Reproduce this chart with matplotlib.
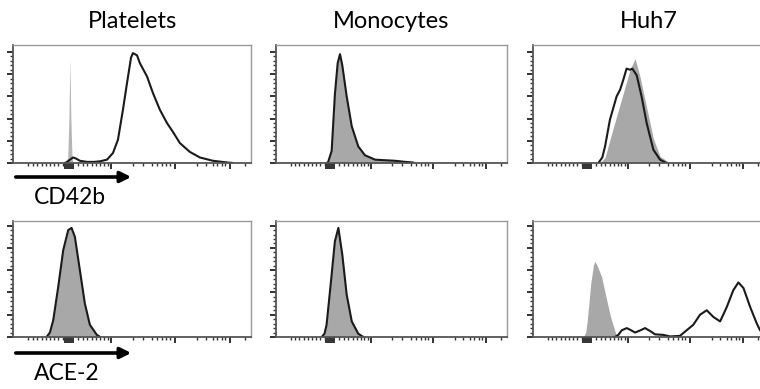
# Flow cytometry histograms: CD42b (top) and ACE-2 (bottom) on platelets, monocytes, Huh7
import matplotlib.pyplot as plt
from matplotlib.patches import FancyArrowPatch

plt.rcParams['font.family'] = ['Lato', 'DejaVu Sans']

# column titles and row marker labels
titles = ['Platelets', 'Monocytes', 'Huh7']
markers = ['CD42b', 'ACE-2']

# x in display channels (0-1000 across each panel), y in % of max
# top row: CD42b
plt_cd42_iso_x = [220, 230, 235, 239, 243, 248, 252]
plt_cd42_iso_y = [0, 5, 40, 94, 40, 5, 0]
plt_cd42_x = [218, 227, 240, 252, 265, 281, 311, 340, 365, 395, 420, 441, 462, 479, 496,
              504, 521, 533, 563, 588, 617, 647, 672, 701, 743, 785, 840, 899, 924]
plt_cd42_y = [0, 1, 3, 5, 4, 2, 1, 1, 1.5, 3, 9, 21, 48, 72, 95,
              99, 97, 90, 78, 63, 48, 36, 28, 18, 10, 5, 2, 0.5, 0]

mono_cd42_iso_x = [220, 226, 241, 255, 267, 277, 287, 306, 328, 356, 385, 429, 515, 560, 592, 600]
mono_cd42_iso_y = [0, 1, 12, 63, 90, 100, 88, 60, 33, 15, 7, 3, 2, 1, 0.5, 0]
mono_cd42_x = [220, 226, 241, 255, 267, 277, 287, 306, 328, 356, 385, 429, 515, 560, 592, 600]
mono_cd42_y = [0, 1, 11, 62, 90, 98, 88, 60, 33, 15, 7, 3, 2, 1, 0.5, 0]

huh_cd42_iso_x = [290, 312, 333, 362, 391, 420, 442, 463, 492, 521, 550, 593]
huh_cd42_iso_y = [0, 5, 21, 42, 63, 84, 94, 78, 50, 22, 6, 0]
huh_cd42_x = [283, 300, 312, 333, 362, 377, 391, 405, 420, 430, 449, 470, 492, 521, 550, 578]
huh_cd42_y = [0, 5, 15, 39, 60, 66, 75, 85, 84, 85, 79, 60, 36, 12, 3, 0]

# bottom row: ACE-2
plt_ace_iso_x = [141, 155, 169, 190, 211, 232, 246, 260, 281, 302, 323, 352, 366]
plt_ace_iso_y = [0, 4, 15, 45, 78, 96, 98, 90, 60, 30, 11, 2, 0]
plt_ace_x = plt_ace_iso_x
plt_ace_y = plt_ace_iso_y

mono_ace_iso_x = [198, 210, 219, 238, 255, 270, 287, 306, 328, 356, 378]
mono_ace_iso_y = [0, 3, 11, 50, 86, 98, 74, 38, 14, 3, 0]
mono_ace_x = mono_ace_iso_x
mono_ace_y = mono_ace_iso_y

huh_ace_iso_x = [218, 228, 235, 250, 262, 268, 280, 297, 316, 336, 355, 365]
huh_ace_iso_y = [0, 4, 15, 48, 65, 68, 63, 54, 36, 18, 5, 0]
huh_ace_x = [355, 370, 384, 406, 425, 442, 465, 485, 510, 528, 564, 593, 636, 665, 694,
             723, 752, 781, 810, 839, 867, 889, 911, 940, 969, 983, 1000]
huh_ace_y = [0, 2, 6, 8, 6, 4, 6, 8, 5, 2.4, 1.9, 0.5, 1, 6, 11,
             20, 24, 18, 14, 27, 42, 49, 44, 27, 12, 6, 3]

panels = [
    [(plt_cd42_iso_x, plt_cd42_iso_y, plt_cd42_x, plt_cd42_y),
     (mono_cd42_iso_x, mono_cd42_iso_y, mono_cd42_x, mono_cd42_y),
     (huh_cd42_iso_x, huh_cd42_iso_y, huh_cd42_x, huh_cd42_y)],
    [(plt_ace_iso_x, plt_ace_iso_y, plt_ace_x, plt_ace_y),
     (mono_ace_iso_x, mono_ace_iso_y, mono_ace_x, mono_ace_y),
     (huh_ace_iso_x, huh_ace_iso_y, huh_ace_x, huh_ace_y)],
]

# biexponential-looking axis ticks (channel positions)
x_major = [218, 227, 235, 244, 252, 410, 680, 910]
x_minor = [63, 84, 101, 122, 139, 155, 172, 189, 210,
           273, 294, 311, 332, 349, 366, 382, 399,
           504, 546, 584, 605, 626, 643, 660,
           773, 811, 840, 857, 878, 891, 975]
y_major = [0, 20, 40, 60, 80, 100]
y_minor = [v for v in range(0, 101, 4) if v % 20 != 0]

W, H = 760, 389
fig = plt.figure(figsize=(W / 100, H / 100), dpi=100)

lefts = [13, 276, 533]
widths = [238, 231, 231]
rows = [(45, 163, 106.3), (221, 337, 104.2)]  # top px, bottom px, ymax

for r, (top, bot, ymax) in enumerate(rows):
    for c in range(3):
        ax = fig.add_axes([lefts[c] / W, 1 - bot / H, widths[c] / W, (bot - top) / H])
        ix, iy, sx, sy = panels[r][c]
        gray = '#b5b5b5' if (r == 0 and c == 0) else '#a8a8a8'
        ax.fill_between(ix, iy, 0, color=gray, lw=0)
        ax.plot(sx, sy, color='#1a1a1a', lw=1.5)
        ax.set_xlim(0, 1000)
        ax.set_ylim(0, ymax)
        ax.set_xticks(x_major)
        ax.set_xticks(x_minor, minor=True)
        ax.set_yticks(y_major)
        ax.set_yticks(y_minor, minor=True)
        ax.set_xticklabels([])
        ax.set_yticklabels([])
        ax.tick_params(which='major', direction='out', length=4, width=1.3, color='#222222')
        ax.tick_params(which='minor', direction='out', length=2.4, width=1.0, color='#333333')
        for side in ['top', 'right']:
            ax.spines[side].set_color('#999999')
            ax.spines[side].set_linewidth(1.0)
        for side in ['left', 'bottom']:
            ax.spines[side].set_color('#555555')
            ax.spines[side].set_linewidth(1.3)
        if r == 0:
            fig.text((lefts[c] + widths[c] / 2) / W, 1 - 21 / H, titles[c],
                     ha='center', va='center', fontsize=17)

# marker arrows and labels under the platelet column
for (ay, ty), label in zip([(177, 198), (353, 374)], markers):
    arrow = FancyArrowPatch((13 / W, 1 - ay / H), (134 / W, 1 - ay / H),
                            transform=fig.transFigure, arrowstyle='-|>',
                            mutation_scale=16, lw=2.6, color='black')
    fig.add_artist(arrow)
    fig.text(34 / W, 1 - ty / H, label, ha='left', va='center', fontsize=16.5)

plt.savefig('out.png', dpi=100)
